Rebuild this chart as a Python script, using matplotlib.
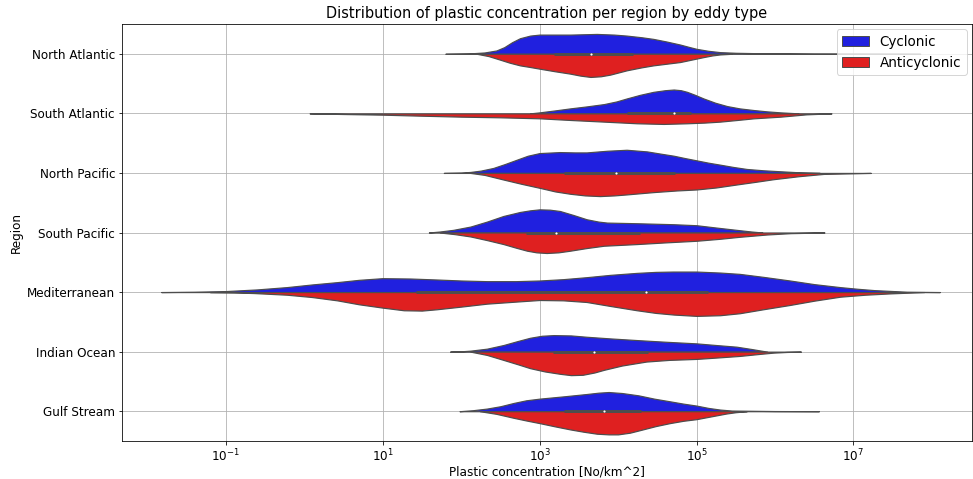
import numpy as np
import matplotlib.pyplot as plt
from matplotlib.patches import Patch
from matplotlib.ticker import NullFormatter, FixedLocator

# ------------------------------------------------------------------------------
# Data: log10(concentration) and half-width (relative density)
# ------------------------------------------------------------------------------

regions = ["North Atlantic", "South Atlantic", "North Pacific", "South Pacific",
           "Mediterranean", "Indian Ocean", "Gulf Stream"]

# Cyclonic (upper halves)
cyc_x = [
    [1.80, 2.10, 2.30, 2.45, 2.55, 2.65, 2.75, 2.88, 3.00, 3.39, 3.73, 3.95, 4.11, 4.30, 4.45,
     4.62, 4.79, 4.90, 5.00, 5.15, 5.30, 5.50, 5.73, 6.50, 7.85],
    [2.88, 3.00, 3.20, 3.39, 3.60, 3.82, 3.98, 4.11, 4.28, 4.45, 4.60, 4.71, 4.80, 4.88, 4.98,
     5.09, 5.24, 5.39, 5.55, 5.73, 5.90, 6.07, 6.30],
    [1.78, 2.00, 2.12, 2.25, 2.41, 2.56, 2.71, 2.85, 3.00, 3.26, 3.45, 3.60, 3.86, 4.11, 4.37,
     4.55, 4.71, 4.85, 5.00, 5.15, 5.30, 5.47, 5.64, 5.85, 6.07, 6.30, 6.57],
    [1.59, 1.73, 1.90, 2.12, 2.33, 2.54, 2.75, 2.88, 3.00, 3.13, 3.26, 3.43, 3.60, 3.75, 3.86,
     4.24, 4.71, 5.00, 5.25, 5.51, 5.70, 5.84],
    [-1.82, -1.40, -1.00, -0.60, -0.22, 0.10, 0.42, 0.70, 1.00, 1.35, 1.69, 2.00, 2.33, 2.70,
     3.00, 3.30, 3.60, 3.90, 4.24, 4.48, 4.70, 5.00, 5.30, 5.55, 5.85, 6.19, 6.50, 6.83, 7.05,
     7.26, 7.68, 8.10],
    [1.86, 2.00, 2.12, 2.33, 2.54, 2.72, 2.88, 3.03, 3.18, 3.40, 3.60, 3.90, 4.24, 4.60, 5.00,
     5.25, 5.51, 5.70, 5.90],
    [1.98, 2.15, 2.33, 2.50, 2.67, 2.83, 3.00, 3.31, 3.60, 3.75, 3.88, 4.05, 4.26, 4.46, 4.66,
     4.83, 5.00, 5.15, 5.30, 5.45, 6.00, 6.56],
]
cyc_w = [
    [0, 1, 4, 10, 20, 35, 47, 55, 58, 58, 60, 58, 55, 50, 45, 37, 28, 21, 15, 9, 5, 3, 2, 0.5, 0],
    [0, 3, 9, 15, 21, 28, 36, 45, 56, 65, 70, 72, 70, 65, 56, 45, 32, 22, 15, 10, 6, 3, 0],
    [0, 1, 3, 7, 15, 27, 40, 52, 60, 63, 62, 62, 67, 70, 65, 58, 52, 45, 38, 31, 25, 18, 12, 8,
     5, 2, 0],
    [0, 3, 8, 18, 33, 50, 62, 67, 70, 69, 65, 53, 40, 33, 30, 28, 25, 22, 15, 8, 3, 0],
    [0, 1, 3, 8, 15, 23, 30, 37, 42, 41, 38, 35, 33, 33, 35, 39, 45, 52, 58, 61, 62, 62, 59, 55,
     46, 35, 24, 15, 10, 6, 1, 0],
    [0, 1, 3, 9, 20, 32, 42, 48, 50, 49, 45, 40, 35, 30, 25, 20, 15, 8, 0],
    [0, 3, 8, 15, 25, 33, 38, 45, 52, 56, 58, 55, 48, 38, 30, 23, 17, 10, 5, 2, 0.5, 0],
]

# Anticyclonic (lower halves)
anti_x = [
    [2.20, 2.35, 2.50, 2.62, 2.75, 2.88, 3.00, 3.20, 3.39, 3.52, 3.65, 3.78, 3.90, 4.11, 4.30,
     4.45, 4.62, 4.79, 4.95, 5.09, 5.20, 5.30, 5.45],
    [0.07, 0.50, 1.00, 1.48, 2.00, 2.50, 3.00, 3.39, 3.82, 4.24, 4.58, 4.88, 5.10, 5.30, 5.52,
     5.73, 6.07, 6.40, 6.72],
    [2.12, 2.30, 2.54, 2.77, 3.00, 3.20, 3.39, 3.58, 3.77, 3.95, 4.11, 4.45, 4.75, 5.00, 5.25,
     5.51, 5.75, 5.98, 6.30, 6.62, 7.22],
    [1.73, 1.92, 2.12, 2.33, 2.54, 2.70, 2.84, 2.96, 3.09, 3.24, 3.39, 3.60, 3.82, 4.24, 4.60,
     5.00, 5.30, 5.55, 5.90, 6.20, 6.63],
    [-1.20, -0.90, -0.64, -0.22, 0.10, 0.42, 0.70, 1.00, 1.27, 1.50, 1.69, 2.00, 2.33, 2.75,
     3.00, 3.30, 3.60, 3.90, 4.24, 4.48, 4.71, 5.00, 5.30, 5.55, 5.85, 6.19, 6.50, 6.83, 7.15,
     7.47, 7.90],
    [2.12, 2.33, 2.54, 2.72, 2.88, 3.07, 3.26, 3.40, 3.55, 3.70, 3.82, 4.05, 4.36, 4.65, 5.00,
     5.25, 5.55, 5.80, 5.98, 6.15, 6.33],
    [2.24, 2.45, 2.67, 2.83, 3.00, 3.20, 3.39, 3.56, 3.73, 3.88, 4.00, 4.15, 4.30, 4.48, 4.66,
     4.83, 5.00, 5.20, 5.38, 5.50, 5.64],
]
anti_w = [
    [0, 7, 18, 27, 35, 40, 45, 53, 60, 66, 70, 68, 63, 50, 41, 35, 30, 25, 17, 10, 5, 2, 0],
    [0, 2, 4, 7, 10, 12, 15, 20, 25, 30, 32, 30, 28, 25, 20, 15, 10, 3, 0],
    [0, 6, 20, 33, 45, 56, 63, 68, 70, 68, 65, 58, 53, 50, 44, 35, 27, 19, 10, 3, 0],
    [0, 5, 12, 23, 35, 46, 55, 60, 62, 60, 55, 47, 40, 35, 30, 25, 19, 13, 6, 2, 0],
    [0, 1, 3, 8, 15, 25, 37, 47, 55, 56, 52, 44, 35, 28, 24, 25, 30, 42, 55, 63, 68, 72, 70, 64,
     52, 39, 26, 14, 8, 4, 0],
    [0, 10, 25, 38, 50, 60, 67, 71, 70, 63, 55, 42, 30, 25, 22, 18, 13, 7, 3, 1, 0],
    [0, 8, 20, 28, 36, 46, 55, 62, 68, 70, 70, 65, 56, 45, 36, 29, 24, 15, 7, 3, 0],
]

# quartiles / median of the pooled data (log10)
q1 = [3.18, 4.12, 3.31, 2.83, 1.43, 3.17, 3.31]
med = [3.65, 4.71, 3.98, 3.21, 4.36, 3.70, 3.82]
q3 = [4.19, 4.93, 4.73, 4.28, 5.14, 4.38, 4.29]

# labelled decades on the x axis
xtick_exp = [-1, 1, 3, 5, 7]

# ------------------------------------------------------------------------------
# Plot
# ------------------------------------------------------------------------------

blue = "#2020df"
red = "#df2020"
edge = "#4d4d4d"

# largest half-width -> 0.4 category units (seaborn width=0.8, split)
wmax = max(max(max(w) for w in cyc_w), max(max(w) for w in anti_w))
scale = 0.4 / wmax

fig = plt.figure(figsize=(973 / 72, 479 / 72), dpi=72)
ax = fig.add_axes([122 / 973, 1 - 441 / 479, 850 / 973, 417 / 479])

for i in range(len(regions)):
    xc = 10 ** np.array(cyc_x[i])
    wc = np.array(cyc_w[i]) * scale
    ax.fill_between(xc, i - wc, i, facecolor=blue, edgecolor=edge, lw=1.2, zorder=2)
    xa = 10 ** np.array(anti_x[i])
    wa = np.array(anti_w[i]) * scale
    ax.fill_between(xa, i, i + wa, facecolor=red, edgecolor=edge, lw=1.2, zorder=2)
    # inner box
    ax.plot([10 ** q1[i], 10 ** q3[i]], [i, i], color=edge, lw=3,
            solid_capstyle="butt", zorder=3)
    ax.plot(10 ** med[i], i, "o", color="white", ms=2.2, mew=0, zorder=4)

ax.set_xscale("log")
ax.set_xlim(10 ** -2.32, 10 ** 8.51)
ax.xaxis.set_major_locator(FixedLocator([10.0 ** e for e in xtick_exp]))
ax.xaxis.set_minor_formatter(NullFormatter())
ax.set_ylim(6.5, -0.5)
ax.set_yticks(range(len(regions)))
ax.set_yticklabels(regions, fontsize=12)
ax.tick_params(axis="x", labelsize=12, pad=3)
ax.grid(True)
ax.set_axisbelow(True)

ax.set_title("Distribution of plastic concentration per region by eddy type", fontsize=14.5)
ax.set_xlabel("Plastic concentration [No/km^2]", fontsize=12, labelpad=1)
ax.set_ylabel("Region", fontsize=12)

handles = [Patch(facecolor=blue, edgecolor=edge, label="Cyclonic"),
           Patch(facecolor=red, edgecolor=edge, label="Anticyclonic")]
ax.legend(handles=handles, loc="upper right", fontsize=13.5, borderaxespad=0.4)

fig.savefig("out.png", dpi=72)
